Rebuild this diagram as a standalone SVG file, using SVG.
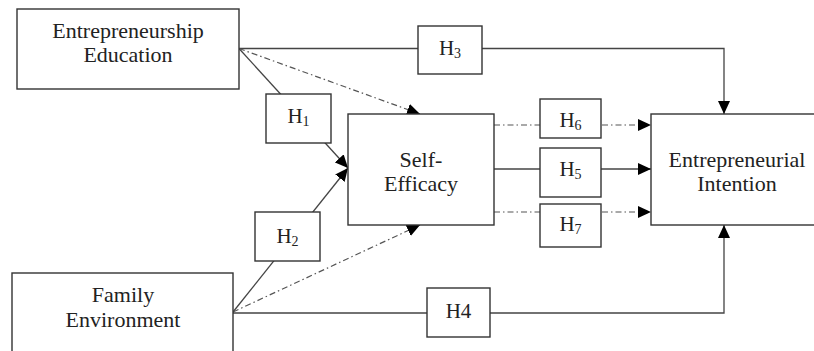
<svg xmlns="http://www.w3.org/2000/svg" width="814" height="351" viewBox="0 0 814 351">
<style>
.box{fill:#fff;stroke:#333;stroke-width:1.4}
.t{font-family:"Liberation Serif","Times New Roman",serif;font-size:22px;fill:#222;text-anchor:middle}
.h{font-family:"Liberation Serif","Times New Roman",serif;font-size:21px;fill:#222;text-anchor:middle}
.sub{font-size:14px}
.solid{fill:none;stroke:#444;stroke-width:1.3}
.dd{fill:none;stroke:#555;stroke-width:1.2;stroke-dasharray:6 3 1.5 3}
</style>
<defs>
<marker id="arr" markerWidth="14" markerHeight="12" refX="13" refY="6" orient="auto" markerUnits="userSpaceOnUse">
<path d="M0,0 L13,6 L0,12 Z" fill="#000"/>
</marker>
</defs>
<rect width="814" height="351" fill="#fff"/>
<g id="connectors">
<polyline class="solid" points="239,48.5 724,48.5 724,114" marker-end="url(#arr)"/>
<line class="solid" x1="239" y1="48.5" x2="348" y2="168" marker-end="url(#arr)"/>
<line class="solid" x1="233" y1="312" x2="348" y2="168" marker-end="url(#arr)"/>
<line class="dd" x1="239" y1="48.5" x2="420" y2="114" marker-end="url(#arr)"/>
<line class="dd" x1="233" y1="312" x2="420" y2="225" marker-end="url(#arr)"/>
<polyline class="solid" points="233,313 724,313 724,225" marker-end="url(#arr)"/>
<line class="dd" x1="494" y1="125" x2="651" y2="125" marker-end="url(#arr)"/>
<line class="solid" x1="494" y1="169" x2="651" y2="169" marker-end="url(#arr)"/>
<line class="dd" x1="494" y1="212" x2="651" y2="212" marker-end="url(#arr)"/>
</g>
<g id="ee">
<rect class="box" x="17" y="9" width="222" height="80"/>
<text class="t" x="128" y="38">Entrepreneurship</text>
<text class="t" x="128" y="62">Education</text>
</g>
<g id="fe">
<rect class="box" x="12" y="273" width="221" height="90"/>
<text class="t" x="123" y="302">Family</text>
<text class="t" x="123" y="327">Environment</text>
</g>
<g id="se">
<rect class="box" x="348" y="114" width="146" height="111"/>
<text class="t" x="421" y="167">Self-</text>
<text class="t" x="421" y="191">Efficacy</text>
</g>
<g id="ei">
<rect class="box" x="651" y="114" width="175" height="111"/>
<text class="t" x="737" y="167">Entrepreneurial</text>
<text class="t" x="737" y="191">Intention</text>
</g>
<g id="h1">
<rect class="box" x="266" y="94" width="65" height="49"/>
<text class="h" x="298.5" y="123">H<tspan class="sub" dy="3">1</tspan></text>
</g>
<g id="h2">
<rect class="box" x="255" y="212" width="65" height="49"/>
<text class="h" x="287.5" y="243">H<tspan class="sub" dy="3">2</tspan></text>
</g>
<g id="h3">
<rect class="box" x="418" y="26" width="64" height="48"/>
<text class="h" x="450" y="55">H<tspan class="sub" dy="3">3</tspan></text>
</g>
<g id="h4">
<rect class="box" x="427" y="288" width="63" height="49"/>
<text class="h" x="458.5" y="318">H4</text>
</g>
<g id="h6">
<rect class="box" x="540" y="99" width="61" height="39"/>
<text class="h" x="570.5" y="127">H<tspan class="sub" dy="3">6</tspan></text>
</g>
<g id="h5">
<rect class="box" x="540" y="148" width="61" height="49"/>
<text class="h" x="570.5" y="176">H<tspan class="sub" dy="3">5</tspan></text>
</g>
<g id="h7">
<rect class="box" x="540" y="204" width="61" height="43"/>
<text class="h" x="570.5" y="231">H<tspan class="sub" dy="3">7</tspan></text>
</g>
</svg>
